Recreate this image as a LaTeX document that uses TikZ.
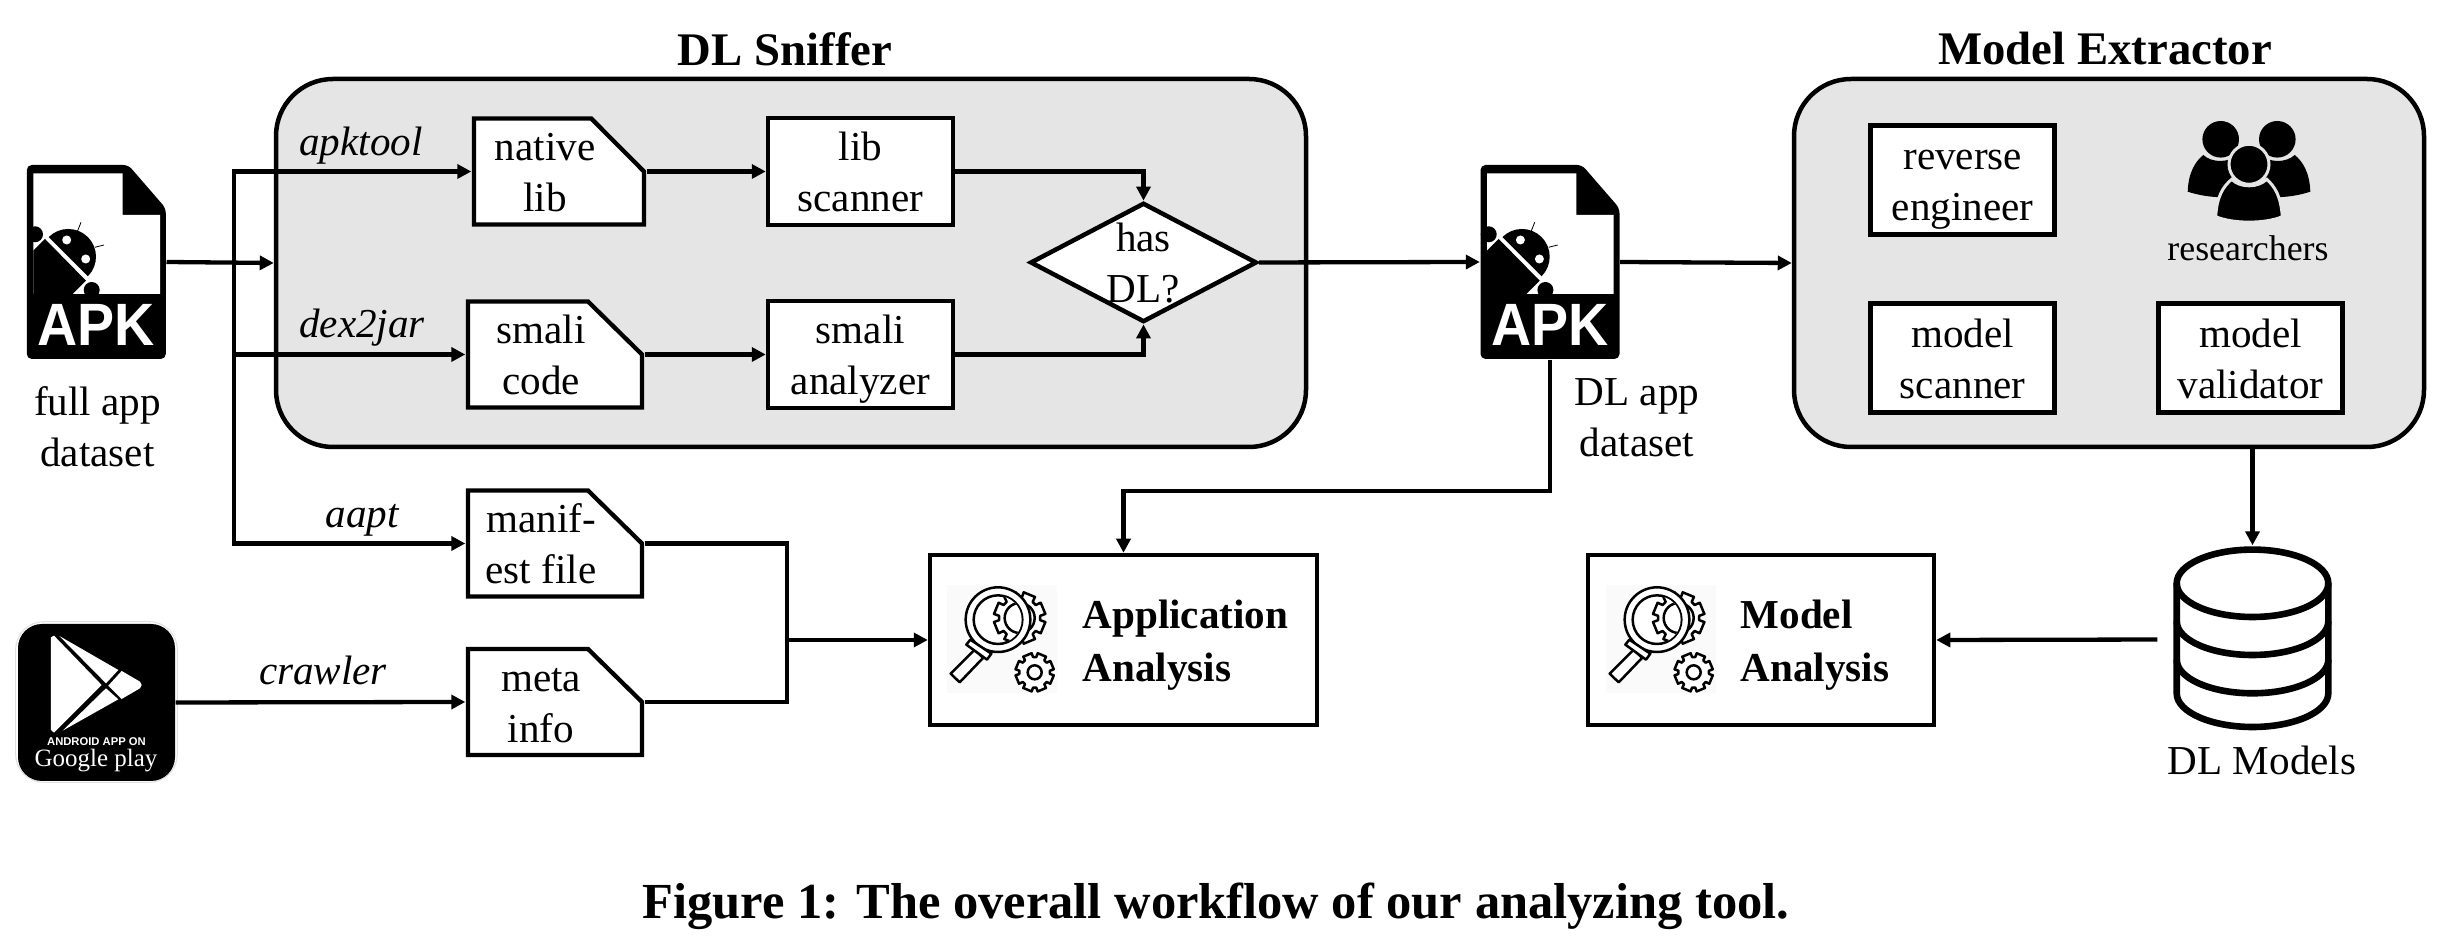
\documentclass[tikz,border=0pt]{standalone}
\usepackage{fontspec}
\setmainfont{Liberation Serif}
\setsansfont{Liberation Sans}
\usetikzlibrary{arrows.meta,shapes.geometric}

\definecolor{panelgray}{HTML}{E5E5E5}

% One gear outline with a hole: centre, outer radius, root radius, hole radius.
\newcommand{\gearshape}[4]{%
    \draw[iconline, fill=white, shift={(#1)}] (-9:#2)
        \foreach \a in {0,45,...,315}{
            -- ({\a-9}:#2) -- ({\a-6}:#3) -- ({\a+6}:#3) -- ({\a+9}:#2)
        } -- cycle;
    \draw[iconline, shift={(#1)}] (0,0) circle (#4);
}
% Pushes a text line left inside its file box.
\newcommand{\padtext}{\hspace{2.8mm}\null}

\tikzset{
    % APK file with the bug-like robot, origin at the centre of the file.
    apkfile/.pic={
        \fill[rounded corners=0.5mm] (-69.5,-97) -- (32,-97) -- (69.5,-53.7) -- (69.5,97) -- (-69.5,97) -- cycle;
        \fill[white] (-63,-88.7) -- (26.4,-88.7) -- (26.4,-47) -- (63.7,-47) -- (63.7,32) -- (-63,32) -- cycle;
        \fill (-63,-11.3) -- (-51.3,-23) -- (-10.3,18.7) -- (-23.6,32) -- (-63,32) -- cycle;
        \fill (-61.3,-27.7) circle (8);
        \fill (-4.6,28) circle (8);
        \fill (-47.6,-24.9) arc[start angle=225, end angle=405, radius=27.7] -- cycle;
        \fill[white] (-29.6,-22) circle (4.5);
        \fill[white] (-10.6,-3) circle (4.5);
        \draw[line width=0.08mm] (-19,-30.3) -- (-15.3,-39.7);
        \draw[line width=0.08mm] (-1.3,-14.7) -- (7.7,-17);
        \node[text=white, xscale=0.93, font=\sffamily\bfseries\fontsize{17}{17}\selectfont] at (0,63.3) {APK};
    },
    % Outline of a file box with its cut corner, origin at the centre.
    filecorner/.pic={
        \draw[wire, fill=white] (-87,-53) -- (33,-53) -- (87,0) -- (87,53) -- (-87,53) -- cycle;
    },
    % Magnifier over a gear, plus a small gear, drawn in units of a third of a pixel.
    lensicon/.pic={
        \begin{scope}[scale=0.3333, shift={(-247,-328)}]
            \fill[black!2] (82,165) rectangle (412,490);
            \gearshape{300,265}{78}{62}{45}
            \draw[iconline, fill=white] (235,270) circle (97);
            \draw[iconline] (235,270) circle (73);
            \begin{scope}
                \clip (235,270) circle (71);
                \gearshape{300,265}{78}{62}{45}
            \end{scope}
            \draw[iconline, fill=white] (165,360) -- (93,432) -- (120,458) -- (190,385) -- cycle;
            \draw[iconline, fill=white] (152,330) -- (215,372) -- (202,390) -- (140,345) -- cycle;
            \gearshape{345,428}{58}{46}{21}
        \end{scope}
    },
}

\begin{document}
\begin{tikzpicture}[
    x=0.1mm, y=-0.1mm,
    font=\fontsize{11.7}{14.5}\selectfont,
    boxtext/.style={
        rectangle, align=center, inner sep=0pt,
        text height=23pt, text depth=0pt
    },
    box/.style={boxtext, draw, line width=0.45mm, fill=white},
    filebox/.style={boxtext, minimum width=17.8mm, minimum height=11mm},
    toolbox/.style={box, minimum width=18.5mm, minimum height=10.7mm},
    innerbox/.style={box, line width=0.5mm, minimum width=18.4mm, minimum height=10.9mm},
    analysisbox/.style={box, rectangle, minimum height=17mm},
    panel/.style={
        rectangle, draw, line width=0.45mm, fill=panelgray,
        rounded corners=5.7mm, minimum height=36.8mm
    },
    iconbox/.style={rectangle, minimum width=13.9mm, minimum height=19.4mm, inner sep=0pt},
    header/.style={font=\bfseries\fontsize{13.3}{16}\selectfont},
    tool/.style={font=\itshape\fontsize{11.7}{14.5}\selectfont},
    caption/.style={boxtext},
    boldtext/.style={font=\bfseries\fontsize{11.7}{15}\selectfont, align=left, anchor=west, inner sep=0pt},
    wire/.style={line width=0.43mm},
    conn/.style={wire, -{Triangle[length=1.4mm, width=1.4mm]}},
    iconline/.style={line width=0.25mm, line join=round},
]

    \useasboundingbox (0,0) rectangle (2462,950);

    % ---------- panels ----------
    \node[panel, minimum width=103mm] (sniffer) at (791,263) {};
    \node[panel, minimum width=63mm] (extractor) at (2109,263) {};
    \node[header] (snifferhead) at (785,49) {DL Sniffer};
    \node[header] (extractorhead) at (2105,49) {Model Extractor};

    % ---------- inputs ----------
    \node[iconbox] (fullapk) at (96.3,262) {};
    \pic at (fullapk) {apkfile};
    \node[caption] (fulltext) at (97.5,426.5) {full app\\dataset};

    \draw[gray!25, line width=0.1mm, rounded corners=2.8mm] (15.7,621.7) rectangle (177.3,782.3);
    \node[rectangle, fill=black, rounded corners=2.4mm, minimum size=15.7mm, inner sep=0pt] (googleplay) at (96.5,702.5) {};
    \begin{scope}[shift={(0,600)}, scale=0.3333]
        \fill[white] (153,112) -- (162,107) -- (305,255) -- (162,398) -- (153,390) -- cycle;
        \fill[white] (178,108) -- (355,210) -- (318,250) -- cycle;
        \fill[white] (188,392) -- (318,265) -- (355,298) -- cycle;
        \fill[white] (365,213) -- (420,245) -- (425,255) -- (420,265) -- (365,297) -- (325,257) -- cycle;
    \end{scope}
    \node[text=white, font=\sffamily\bfseries\fontsize{3.2}{4}\selectfont] (androidtext) at (96.5,741.5) {ANDROID APP ON};
    \node[text=white, font=\fontsize{7.1}{8}\selectfont] (googletext) at (96,761) {Google play};

    % ---------- DL Sniffer ----------
    \pic[xscale=0.977] at (559,171.5) {filecorner};
    \node[filebox, minimum width=17.4mm] (nativelib) at (559,171.5) {native\padtext\\lib\padtext};
    \pic at (555,354.5) {filecorner};
    \node[filebox] (smalicode) at (555,354.5) {smali\padtext\\code\padtext};
    \node[toolbox] (libscanner) at (860.5,171.5) {lib\\scanner};
    \node[toolbox] (smalianalyzer) at (860.5,354.5) {smali\\analyzer};
    \node[box, diamond, aspect=1.9, minimum width=21.6mm, minimum height=11.2mm] (hasdl) at (1143.5,262.5) {has\\DL?};

    % ---------- file boxes below the panel ----------
    \pic at (555,543.5) {filecorner};
    \node[filebox] (manifest) at (555,543.5) {manif-\padtext\\est file\padtext};
    \pic at (555,702) {filecorner};
    \node[filebox] (metainfo) at (555,702) {meta\padtext\\info\padtext};

    % ---------- DL app dataset ----------
    \node[iconbox] (dlapk) at (1550,262) {};
    \pic at (dlapk) {apkfile};
    \node[caption] (dltext) at (1637,416.5) {DL app\\dataset};

    % ---------- Model Extractor ----------
    \node[innerbox] (reverse) at (1962.7,180.5) {reverse\\engineer};
    \node[innerbox] (modelscanner) at (1962.7,358) {model\\scanner};
    \node[innerbox] (modelvalidator) at (2250.5,358) {model\\validator};

    % three people: back pair first, the front one with a gap round it
    \fill (2220.7,139.3) circle (18.3);
    \fill (2277.3,139.3) circle (18.3);
    \fill (2187.7,191.7) .. controls (2188.3,173) and (2195,161.7) .. (2203.3,155)
        .. controls (2212,163) and (2228,163) .. (2238,155) -- (2228,197)
        .. controls (2212,198) and (2198,195) .. cycle;
    \fill (2310.3,191.7) .. controls (2309.7,173) and (2303,161.7) .. (2294.7,155)
        .. controls (2286,163) and (2270,163) .. (2260,155) -- (2270,197)
        .. controls (2286,198) and (2300,195) .. cycle;
    \filldraw[draw=panelgray, line width=0.3mm] (2215.7,216.7) .. controls (2216.7,196.7) and (2223,186.7) .. (2231.7,179.3)
        .. controls (2240,188) and (2258,188) .. (2266.7,179.3)
        .. controls (2275,186.7) and (2281,196.7) .. (2282.3,216.7)
        .. controls (2265,224) and (2233,224) .. cycle;
    \filldraw[draw=panelgray, line width=0.3mm] (2249,164.3) circle (20);
    \node[font=\fontsize{10.2}{12}\selectfont] (researchers) at (2248,248) {researchers};

    % ---------- analysis boxes ----------
    \node[analysisbox, minimum width=38.7mm] (appanalysis) at (1123.5,640) {};
    \pic at (1002,639) {lensicon};
    \node[boldtext] (apptext) at (1082,645) {Application\\Analysis};

    \node[analysisbox, minimum width=34.6mm] (modelanalysis) at (1761,640) {};
    \pic at (1661,639) {lensicon};
    \node[boldtext] (modeltext) at (1740,645) {Model\\Analysis};

    % ---------- model store ----------
    \node[iconbox, minimum width=15.9mm, minimum height=18.7mm] (dbicon) at (2252.5,639.5) {};
    \draw[line width=0.66mm] (2252.5,583.3) ellipse (75.8 and 33.7);
    \draw[line width=0.66mm] (2176.7,583.3) -- (2176.7,693.3) arc[start angle=180, end angle=0, x radius=75.8, y radius=33.7] -- (2328.3,583.3);
    \draw[line width=0.66mm] (2176.7,621.3) arc[start angle=180, end angle=0, x radius=75.8, y radius=33.7];
    \draw[line width=0.66mm] (2176.7,659.6) arc[start angle=180, end angle=0, x radius=75.8, y radius=33.7];
    \node (dbtext) at (2262,760) {DL Models};

    % ---------- connectors ----------
    \coordinate (busjoint) at (234,263);
    \coordinate (mergejoint) at (787,640);
    \coordinate (appdrop) at (1123.5,491);

    \draw[conn] (fullapk.east) -- (sniffer.west);
    \draw[conn] (busjoint) |- (nativelib.west);
    \draw[conn] (busjoint) |- (smalicode.west);
    \draw[conn] (busjoint) |- (manifest.west);
    \draw[conn] (googleplay.east) -- (metainfo.west);

    \draw[conn] (nativelib.east) -- (libscanner.west);
    \draw[conn] (smalicode.east) -- (smalianalyzer.west);
    \draw[conn] (libscanner.east) -| (hasdl.north);
    \draw[conn] (smalianalyzer.east) -| (hasdl.south);
    \draw[conn] (hasdl.east) -- (dlapk.west);
    \draw[conn] (dlapk.east) -- (extractor.west);

    \draw[wire] (manifest.east) -| (mergejoint);
    \draw[wire] (metainfo.east) -| (mergejoint);
    \draw[conn] (mergejoint) -- (appanalysis.west);
    \draw[conn] (dlapk.south) |- (appdrop) -- (appanalysis.north);

    \draw[conn] (extractor.south -| dbicon.north) -- (dbicon.north);
    \draw[conn, shorten <=1.5mm] (dbicon.west) -- (modelanalysis.east);

    % ---------- tool names ----------
    \node[tool] (apktool) at (361,146) {apktool};
    \node[tool] (dextojar) at (362,328) {dex2jar};
    \node[tool] (aapt) at (362,520) {aapt};
    \node[tool] (crawler) at (323,670) {crawler};

    % ---------- Caption ----------
    \node[font=\bfseries\fontsize{14.37}{16}\selectfont] (figcaption) at (1216,906) {Figure 1: The overall workflow of our analyzing tool.};

\end{tikzpicture}
\end{document}
